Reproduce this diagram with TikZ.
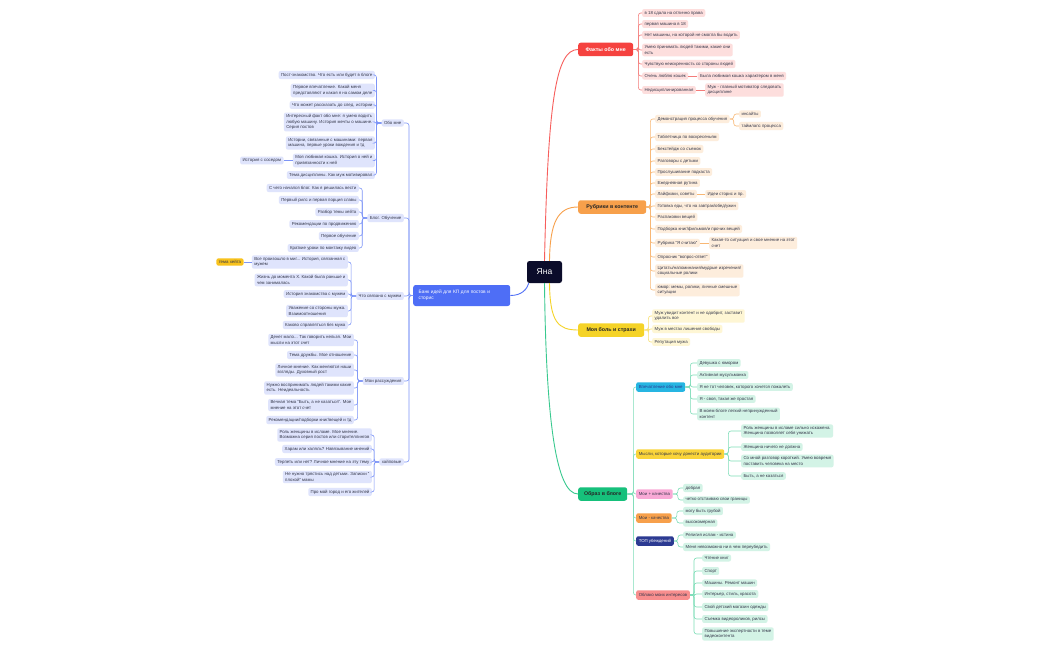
\documentclass[tikz,border=0pt]{standalone}
\usepackage{fontspec}
\setmainfont{Liberation Sans}
\usetikzlibrary{positioning}
\definecolor{yanaDark}{HTML}{0B0C2A}
\definecolor{bankBlue}{HTML}{4E6EF6}
\definecolor{bankLine}{HTML}{7D95F7}
\definecolor{bankLeaf}{HTML}{DFE4FC}
\definecolor{factRed}{HTML}{F5423F}
\definecolor{factLine}{HTML}{F47C7A}
\definecolor{factLeaf}{HTML}{FDDEDD}
\definecolor{rubOrange}{HTML}{F7A04B}
\definecolor{rubLine}{HTML}{F8B774}
\definecolor{rubLeaf}{HTML}{FDEDDC}
\definecolor{painYellow}{HTML}{F5D327}
\definecolor{painLine}{HTML}{F7DF70}
\definecolor{painLeaf}{HTML}{FEF6D4}
\definecolor{imgGreen}{HTML}{16C07B}
\definecolor{imgLine}{HTML}{7DDDB8}
\definecolor{imgLeaf}{HTML}{D3F3E6}
\definecolor{impCyan}{HTML}{26B5E2}
\definecolor{thoughtYellow}{HTML}{FAD43A}
\definecolor{plusPink}{HTML}{F9A9D6}
\definecolor{topNavy}{HTML}{2C3A92}
\definecolor{cloudSalmon}{HTML}{F88E8E}
\definecolor{hateYellow}{HTML}{F8C21C}
\definecolor{textDark}{HTML}{34374A}
\tikzset{
  leaf/.style={rectangle, rounded corners=2pt, align=left, inner xsep=2.4pt,
               inner ysep=2pt, text=textDark, font=\fontsize{4.35}{5.4}\selectfont},
  leafB/.style={leaf, fill=bankLeaf},
  leafR/.style={leaf, fill=factLeaf},
  leafO/.style={leaf, fill=rubLeaf},
  leafY/.style={leaf, fill=painLeaf},
  leafG/.style={leaf, fill=imgLeaf},
  knot/.style={leaf, minimum height=9.5pt, inner xsep=2.6pt},
  mainbox/.style={rectangle, rounded corners=2.5pt, minimum height=13.5pt,
                  font=\bfseries\fontsize{5.3}{6}\selectfont},
  twig/.style={rounded corners=2.5pt, line width=0.6pt},
  twigB/.style={twig, draw=bankLine},
  twigR/.style={twig, draw=factLine},
  twigO/.style={twig, draw=rubLine},
  twigY/.style={twig, draw=painLine},
  twigG/.style={twig, draw=imgLine},
  limb/.style={line width=0.9pt},
}

\begin{document}
\begin{tikzpicture}[x=1pt, y=-1pt]
  \useasboundingbox[fill=white] (0,0) rectangle (1050,650);

  % centre
  \node[fill=yanaDark, text=white, rounded corners=2.5pt, minimum width=35pt,
        minimum height=22pt, font=\fontsize{8.5}{9}\selectfont] (yana) at (544.5,272) {Яна};

  % --- left: bank of ideas ---
  \node[fill=bankBlue, text=white, rounded corners=2.5pt, anchor=west, align=left,
        text width=86pt, inner xsep=5.5pt, minimum height=21pt,
        font=\fontsize{4.8}{6.4}\selectfont] (bank) at (413,295.5)
        {Банк идей для КП для постов и\\сторис};
  \draw[limb, bankBlue] (bank.east) .. controls (522,295.5) and (527,289) .. ([xshift=2pt]yana.south west);

  \node[leafB, anchor=east] (obo) at (404,123) {Обо мне};
  \node[leafB, anchor=east] (blog) at (404,218) {Блог. Обучение};
  \node[leafB, anchor=east] (muzh) at (404,296) {Что связано с мужем};
  \node[leafB, anchor=east] (mysl) at (404,381) {Мои рассуждения};
  \node[leafB, anchor=east] (hype) at (404,462) {хайповые};
  \foreach \s in {obo, blog, muzh, mysl, hype}
    \draw[twigB] (bank.west) -- ++(-4,0) |- (\s.east);

  \foreach \i/\y/\t in {1/75/{Пост-знакомство. Что есть или будет в блоге},
      2/90.5/{Первое впечатление. Какой меня\\представляют и какая я на самом деле},
      3/105/{Что может рассказать до след. истории},
      4/122/{Интересный факт обо мне: я умею водить\\любую машину. История мечты о машине.\\Серия постов},
      5/143/{Истории, связанные с машинами: первая\\машина, первые уроки вождения и тд},
      6/160.5/{Моя любимая кошка. История о ней и\\привязанности к ней},
      7/175/{Тема дисциплины. Как муж мотивировал}} {
    \node[leafB, anchor=east] (obo\i) at (375,\y) {\t};
    \draw[twigB] (obo.west) -- ++(-5,0) |- (obo\i.east);
  }
  \node[leafB, left=9pt of obo6] (sosed) {История с соседом};
  \draw[twigB] (obo6.west) -- (sosed.east);

  \foreach \i/\y/\t in {1/188/{С чего начался блог. Как я решилась вести},
      2/200/{Первый рилс и первая порция славы},
      3/212/{Разбор темы хейта},
      4/224/{Рекомендации по продвижению},
      5/236/{Первое обучение},
      6/248/{Краткие уроки по монтажу видео}} {
    \node[leafB, anchor=east] (blog\i) at (359,\y) {\t};
    \draw[twigB] (blog.west) -- ++(-5,0) |- (blog\i.east);
  }

  \foreach \i/\y/\t in {1/262/{Все произошло в миг... История, связанная с\\мужем},
      2/280/{Жизнь до момента Х. Какой была раньше и\\чем занималась},
      3/294/{История знакомства с мужем},
      4/311/{Уважение со стороны мужа.\\Взаимоотношения},
      5/325/{Каково справляться без мужа}} {
    \node[leafB, anchor=east] (muzh\i) at (348,\y) {\t};
    \draw[twigB] (muzh.west) -- ++(-5,0) |- (muzh\i.east);
  }
  \node[leaf, fill=hateYellow, left=8pt of muzh1] (hate) {тема хейта};
  \draw[twigB] (muzh1.west) -- (hate.east);

  \foreach \i/\y/\t in {1/340/{Денег мало... Так говорить нельзя. Мои\\мысли на этот счет},
      2/355/{Тема дружбы. Мое отношение},
      3/370/{Личное мнение. Как меняются наши\\взгляды. Духовный рост},
      4/388/{Нужно воспринимать людей такими какие\\есть. Неидеальность},
      5/405/{Вечная тема "Быть, а не казаться". Мое\\мнение на этот счет},
      6/420/{Рекомендации/подборки книг/вещей и тд}} {
    \node[leafB, anchor=east] (mysl\i) at (354,\y) {\t};
    \draw[twigB] (mysl.west) -- ++(-5,0) |- (mysl\i.east);
  }

  \foreach \i/\y/\t in {1/435/{Роль женщины в исламе. Мое мнение.\\Возможна серия постов или сторителлингов},
      2/449/{Харам или халяль? Навязывание мнений},
      3/462/{Терпеть или нет? Личное мнение на эту тему},
      4/477/{Не нужно трястись над детьми. Записки "\\плохой" мамы},
      5/492/{Про мой город и его жителей}} {
    \node[leafB, anchor=east] (hype\i) at (372,\y) {\t};
    \draw[twigB] (hype.west) -- ++(-5,0) |- (hype\i.east);
  }

  % --- right: facts ---
  \node[mainbox, fill=factRed, text=white, anchor=west, minimum width=55pt] (fact) at (578,49.5) {Факты обо мне};
  \draw[limb, factRed!85] (yana.north) .. controls (548,100) and (556,49.5) .. (fact.west);
  \foreach \i/\y/\t in {1/13/{в 18 сдала на отлично права},
      2/24/{первая машина в 18},
      3/35/{Нет машины, на которой не смогла бы водить},
      4/50/{Умею принимать людей такими, какие они\\есть},
      5/64/{Чувствую неискренность со стороны людей},
      6/76/{Очень люблю кошек},
      7/90/{Недисциплинированная}} {
    \node[leafR, anchor=west] (fact\i) at (642,\y) {\t};
    \draw[twigR] (fact.east) -- ++(5,0) |- (fact\i.west);
  }
  \node[leafR, right=9pt of fact6] (koshka) {Была любимая кошка характером в меня};
  \draw[twigR] (fact6.east) -- (koshka.west);
  \node[leafR, right=9pt of fact7] (motiv) {Муж - главный мотиватор следовать\\дисциплине};
  \draw[twigR] (fact7.east) -- (motiv.west);

  % --- right: rubrics ---
  \node[mainbox, fill=rubOrange, text=black!85, anchor=west, minimum width=68pt] (rub) at (578,207) {Рубрики в контенте};
  \draw[limb, rubOrange] ([xshift=5pt]yana.north) .. controls (550,222) and (558,207) .. (rub.west);
  \foreach \i/\y/\t in {1/119/{Демонстрация процесса обучения},
      2/137/{Таблетница по воскресеньям},
      3/149/{Бекстейдж со съемок},
      4/161/{Разговоры с детьми},
      5/172/{Прослушивание подкаста},
      6/183/{Ежедневная рутина},
      7/194/{Лайфхаки, советы},
      8/206/{Готовка еды, что на завтрак/обед/ужин},
      9/217/{Распаковки вещей},
      10/229/{Подборка книг/фильмов/и прочих вещей},
      11/243/{Рубрика "Я считаю"},
      12/257/{Опросник "вопрос-ответ"},
      13/271/{Цитаты/напоминания/мудрые изречения/\\социальные ролики},
      14/290/{юмор: мемы, ролики, личные смешные\\ситуации}} {
    \node[leafO, anchor=west] (rub\i) at (655,\y) {\t};
    \draw[twigO] (rub.east) -- ++(4,0) |- (rub\i.west);
  }
  \node[leafO, anchor=west] (insait) at (739,114) {инсайты};
  \node[leafO, anchor=west] (taim) at (739,126) {таймлапс процесса};
  \foreach \s in {insait, taim}
    \draw[twigO] (rub1.east) -- ++(4,0) |- (\s.west);
  \node[leafO, right=8pt of rub7] (idei) {Идеи сторис и пр.};
  \draw[twigO] (rub7.east) -- (idei.west);
  \node[leafO, right=9pt of rub11] (schet) {Какая-то ситуация и свое мнение на этот\\счет};
  \draw[twigO] (rub11.east) -- (schet.west);

  % --- right: fears ---
  \node[mainbox, fill=painYellow, text=black!85, anchor=west, minimum width=66pt] (pain) at (578,330) {Моя боль и страхи};
  \draw[limb, painYellow] ([xshift=5pt]yana.south) .. controls (550,322) and (558,330) .. (pain.west);
  \foreach \i/\y/\t in {1/316/{Муж увидит контент и не одобрит, заставит\\удалить все},
      2/329/{Муж в местах лишения свободы},
      3/342/{Репутация мужа}} {
    \node[leafY, anchor=west] (pain\i) at (652,\y) {\t};
    \draw[twigY] (pain.east) -- ++(4,0) |- (pain\i.west);
  }

  % --- right: image in the blog ---
  \node[mainbox, fill=imgGreen, text=black!85, anchor=west, minimum width=49pt] (obr) at (578,494) {Образ в блоге};
  \draw[limb, imgGreen!85] (yana.south) .. controls (546,420) and (556,494) .. (obr.west);
  \node[knot, fill=impCyan, text=topNavy, anchor=west] (imp) at (636,387) {Впечатление обо мне};
  \node[knot, fill=thoughtYellow, anchor=west] (thought) at (636,454) {Мысли, которые хочу донести аудитории};
  \node[knot, fill=plusPink, anchor=west] (plus) at (636,494) {Мои + качества};
  \node[knot, fill=rubOrange, anchor=west] (minus) at (636,518) {Мои - качества};
  \node[knot, fill=topNavy, text=white, anchor=west] (top) at (636,541) {ТОП убеждений};
  \node[knot, fill=cloudSalmon, anchor=west] (cloud) at (636,595) {Облако моих интересов};
  \foreach \s in {imp, thought, plus, minus, top, cloud}
    \draw[twigG] (obr.east) -- ++(6,0) |- (\s.west);

  \foreach \i/\y/\t in {1/363/{Девушка с юмором},
      2/375/{Активная мусульманка},
      3/387/{Я не тот человек, которого хочется пожалеть},
      4/399/{Я - своя, такая же простая},
      5/414/{В моем блоге легкий непринужденный\\контент}} {
    \node[leafG, anchor=west] (imp\i) at (697,\y) {\t};
    \draw[twigG] (imp.east) -- ++(5,0) |- (imp\i.west);
  }
  \foreach \i/\y/\t in {1/431/{Роль женщины в исламе сильно искажена.\\Женщина позволяет себя унижать},
      2/447/{Женщина ничего не должна},
      3/461/{Со мной разговор короткий. Умею вовремя\\поставить человека на место},
      4/476/{Быть, а не казаться}} {
    \node[leafG, anchor=west] (thought\i) at (741,\y) {\t};
    \draw[twigG] (thought.east) -- ++(4,0) |- (thought\i.west);
  }
  \foreach \i/\y/\t in {1/488/{добрая}, 2/500/{четко отстаиваю свои границы}} {
    \node[leafG, anchor=west] (plus\i) at (683,\y) {\t};
    \draw[twigG] (plus.east) -- ++(5,0) |- (plus\i.west);
  }
  \foreach \i/\y/\t in {1/511/{могу быть грубой}, 2/523/{высокомерная}} {
    \node[leafG, anchor=west] (minus\i) at (683,\y) {\t};
    \draw[twigG] (minus.east) -- ++(5,0) |- (minus\i.west);
  }
  \foreach \i/\y/\t in {1/535/{Религия ислам - истина}, 2/547/{Меня невозможно ни в чем переубедить}} {
    \node[leafG, anchor=west] (top\i) at (683,\y) {\t};
    \draw[twigG] (top.east) -- ++(4,0) |- (top\i.west);
  }
  \foreach \i/\y/\t in {1/558/{Чтение книг},
      2/571/{Спорт},
      3/583/{Машины. Ремонт машин},
      4/594/{Интерьер, стиль, красота},
      5/607/{Свой детский магазин одежды},
      6/619/{Съемка видеороликов, рилсы},
      7/634/{Повышение экспертности в теме\\видеоконтента}} {
    \node[leafG, anchor=west] (cloud\i) at (702,\y) {\t};
    \draw[twigG] (cloud.east) -- ++(4,0) |- (cloud\i.west);
  }
\end{tikzpicture}
\end{document}
